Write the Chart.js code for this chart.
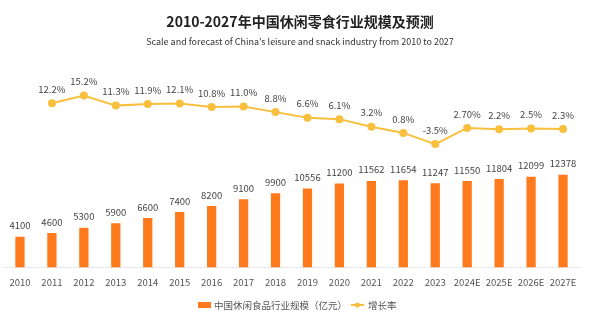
<!DOCTYPE html>
<html>
<head>
<meta charset="utf-8">
<script src="https://cdn.jsdelivr.net/npm/chart.js@4/dist/chart.umd.min.js"></script>
<style>
    html, body { margin: 0; padding: 0; background: #fff; }
</style>
</head>
<body>
<canvas id="chart" width="600" height="321"></canvas>
<script>
// Chart data
var years = ["2010", "2011", "2012", "2013", "2014", "2015", "2016", "2017", "2018",
    "2019", "2020", "2021", "2022", "2023", "2024E", "2025E", "2026E", "2027E"];
var marketSize = [4100, 4600, 5300, 5900, 6600, 7400, 8200, 9100, 9900,
    10556, 11200, 11562, 11654, 11247, 11550, 11804, 12099, 12378];
var growthRate = [null, 12.2, 15.2, 11.3, 11.9, 12.1, 10.8, 11.0, 8.8,
    6.6, 6.1, 3.2, 0.8, -3.5, 2.7, 2.2, 2.5, 2.3];
var growthLabels = ["", "12.2%", "15.2%", "11.3%", "11.9%", "12.1%", "10.8%", "11.0%", "8.8%",
    "6.6%", "6.1%", "3.2%", "0.8%", "-3.5%", "2.70%", "2.2%", "2.5%", "2.3%"];

var barColor = '#FF7A1C';
var lineColor = '#F8C03E';
var fontFamily = "'Noto Sans CJK SC', 'Noto Sans', sans-serif";

// Value labels above bars and points
var valueLabels = {
    id: 'valueLabels',
    afterDatasetsDraw: function (chart) {
        var ctx = chart.ctx;
        ctx.save();
        ctx.font = '9.5px ' + fontFamily;
        ctx.fillStyle = '#444';
        ctx.textAlign = 'center';
        ctx.textBaseline = 'middle';
        chart.getDatasetMeta(0).data.forEach(function (bar, i) {
            ctx.fillText(marketSize[i], bar.x, bar.y - 11);
        });
        chart.getDatasetMeta(1).data.forEach(function (pt, i) {
            if (growthRate[i] === null) return;
            ctx.fillText(growthLabels[i], pt.x, pt.y - 14);
        });
        ctx.restore();
    }
};

// Legend drawn at the bottom
var bottomLegend = {
    id: 'bottomLegend',
    afterDraw: function (chart) {
        var ctx = chart.ctx;
        var y = 305;
        ctx.save();
        ctx.font = '9.5px ' + fontFamily;
        ctx.textBaseline = 'middle';
        ctx.textAlign = 'left';

        ctx.fillStyle = barColor;
        ctx.fillRect(198, y - 3, 13, 6);
        ctx.fillStyle = '#555';
        ctx.fillText(chart.data.datasets[0].label, 214, y);

        ctx.strokeStyle = lineColor;
        ctx.lineWidth = 2;
        ctx.beginPath();
        ctx.moveTo(351, y);
        ctx.lineTo(364, y);
        ctx.stroke();
        ctx.fillStyle = lineColor;
        ctx.beginPath();
        ctx.arc(357.5, y, 2.5, 0, Math.PI * 2);
        ctx.fill();
        ctx.fillStyle = '#555';
        ctx.fillText(chart.data.datasets[1].label, 368, y);
        ctx.restore();
    }
};

var ctx = document.getElementById('chart').getContext('2d');
var myChart = new Chart(ctx, {
    type: 'bar',
    data: {
        labels: years,
        datasets: [{
            type: 'bar',
            label: '中国休闲食品行业规模（亿元）',
            data: marketSize,
            backgroundColor: barColor,
            yAxisID: 'y',
            categoryPercentage: 1,
            barPercentage: 0.29,
            order: 2
        }, {
            type: 'line',
            label: '增长率',
            data: growthRate,
            borderColor: lineColor,
            backgroundColor: lineColor,
            borderWidth: 2,
            pointRadius: 4,
            pointBackgroundColor: lineColor,
            pointBorderWidth: 0,
            tension: 0,
            yAxisID: 'y1',
            order: 1
        }]
    },
    options: {
        responsive: false,
        animation: false,
        layout: {
            padding: { left: 3, right: 3, top: 0, bottom: 24 }
        },
        plugins: {
            legend: { display: false },
            tooltip: { enabled: false },
            title: {
                display: true,
                text: '2010-2027年中国休闲零食行业规模及预测',
                color: '#222',
                font: { family: fontFamily, size: 14, weight: 'bold' },
                padding: { top: 13, bottom: 4 }
            },
            subtitle: {
                display: true,
                text: "Scale and forecast of China's leisure and snack industry from 2010 to 2027",
                color: '#333',
                font: { family: fontFamily, size: 9 },
                padding: { top: 2, bottom: 26 }
            }
        },
        scales: {
            x: {
                grid: { display: false, drawTicks: false },
                border: { display: true, color: '#e8e8e8' },
                ticks: {
                    color: '#555',
                    padding: 9,
                    autoSkip: false,
                    maxRotation: 0,
                    minRotation: 0,
                    font: { family: fontFamily, size: 9.5 }
                }
            },
            y: {
                display: false,
                min: 0,
                max: 26000
            },
            y1: {
                position: 'right',
                min: -51,
                max: 24,
                grid: { display: false },
                border: { display: false },
                ticks: { display: false },
                afterFit: function (scale) {
                    scale.width = 18;
                }
            }
        }
    },
    plugins: [valueLabels, bottomLegend]
});
</script>
</body>
</html>
